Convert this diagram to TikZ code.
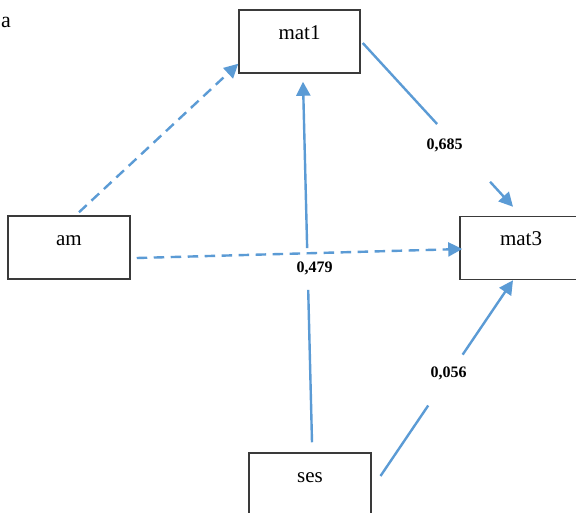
\documentclass[tikz,border=0pt]{standalone}
\usepackage{fontspec}
\setmainfont{Liberation Serif}
\usetikzlibrary{arrows.meta,calc}
\definecolor{lineblue}{HTML}{5B9BD5}
\definecolor{boxgray}{HTML}{3A3A3A}
\tikzset{
  varbox/.style={draw=boxgray, line width=1.5pt, rectangle, minimum width=121pt, minimum height=63pt,
    inner sep=0pt, text height=14pt, text depth=19pt, font=\fontsize{21}{23}\selectfont},
  conn/.style={draw=lineblue, line width=2.4pt},
  tip/.style={-{Triangle[length=14pt,width=14pt]}},
  dashconn/.style={conn, dash pattern=on 10.5pt off 6.5pt},
  coef/.style={font=\fontsize{16}{18}\selectfont\bfseries, inner sep=0pt}
}
\begin{document}
\begin{tikzpicture}[x=1pt,y=-1pt]
\useasboundingbox (0,0) rectangle (576,512);
\clip (0,0) rectangle (576,512);
\fill[white] (0,0) rectangle (576,512);

\node[anchor=base west, inner sep=0pt, font=\fontsize{22}{24}\selectfont] (panel) at (1,27) {a};

\node[varbox] (mat1) at (299.5,41.5) {mat1};
\node[varbox, minimum width=122pt] (am) at (69,247.5) {am};
\node[varbox, minimum width=122pt] (mat3) at (521,248) {mat3};
\node[varbox, minimum width=122pt] (ses) at (310,484.5) {ses};

% am -> mat1 (dashed)
\coordinate (a1s) at ([xshift=10pt,yshift=3pt]am.north);
\coordinate (a1e) at ([yshift=10pt]mat1.south west);
\draw[dashconn, tip] (a1s) -- (a1e);

% ses -> mat1 (solid, gap for label)
\coordinate (s1s) at ([xshift=2pt,yshift=10pt]ses.north);
\coordinate (s1e) at ([xshift=3.5pt,yshift=-8pt]mat1.south);
\coordinate (s1g1) at ($(s1s)!0.4227!(s1e)$);
\coordinate (s1g2) at ($(s1s)!0.5387!(s1e)$);
\draw[conn] (s1s) -- (s1g1);
\draw[conn, tip] (s1g2) -- (s1e);
\node[coef] (c479) at (314.5,268.5) {0,479};

% am -> mat3 (dashed)
\coordinate (a3s) at ([xshift=6pt,yshift=-10.5pt]am.east);
\coordinate (a3e) at ([xshift=3pt,yshift=-1pt]mat3.west);
\draw[dashconn, tip] (a3s) -- (a3e);

% mat1 -> mat3 (solid, gap for label)
\coordinate (m1s) at ([xshift=2pt,yshift=-1.5pt]mat1.east);
\coordinate (m1e) at ([xshift=-8pt,yshift=9pt]mat3.north);
\coordinate (m1g1) at ($(m1s)!0.4947!(m1e)$);
\coordinate (m1g2) at ($(m1s)!0.8477!(m1e)$);
\draw[conn] (m1s) -- (m1g1);
\draw[conn, tip] (m1g2) -- (m1e);
\node[coef] (c685) at (444.5,145) {0,685};

% ses -> mat3 (solid, gap for label)
\coordinate (s3s) at (380.5,476);
\coordinate (s3e) at ([xshift=-8pt,yshift=0pt]mat3.south);
\coordinate (s3g1) at ($(s3s)!0.36!(s3e)$);
\coordinate (s3g2) at ($(s3s)!0.62!(s3e)$);
\draw[conn] (s3s) -- (s3g1);
\draw[conn, tip] (s3g2) -- (s3e);
\node[coef] (c056) at (448.5,373) {0,056};
\end{tikzpicture}
\end{document}
